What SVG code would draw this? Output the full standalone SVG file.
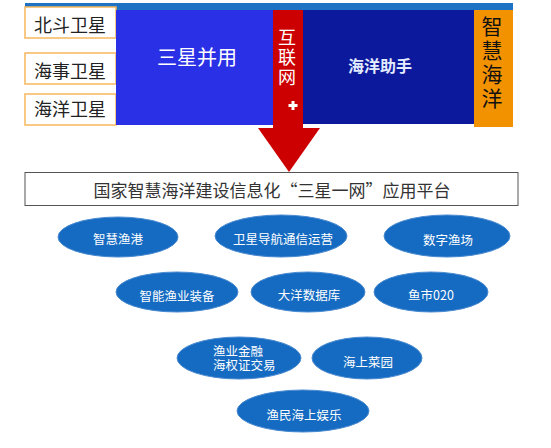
<svg xmlns="http://www.w3.org/2000/svg" width="551" height="448" viewBox="0 0 551 448">
<style>
.lbl{fill:#fff;stroke:#f6b85e;stroke-width:1.5}
.lt{font-family:"Noto Sans CJK SC",sans-serif;font-size:18px;fill:#222;text-anchor:middle;dominant-baseline:central}
.ell{fill:#156bc1;stroke:#4a8ad0;stroke-width:1}
.et{font-family:"Noto Sans CJK SC",sans-serif;font-size:12.5px;fill:#fff;text-anchor:middle;dominant-baseline:central}
.vt{font-family:"Noto Sans CJK SC",sans-serif;writing-mode:vertical-rl;text-orientation:upright;text-anchor:middle;dominant-baseline:central}
.w{fill:#fff}
</style>
<rect x="0" y="0" width="551" height="448" fill="#fff"/>
<g id="topbar"><rect x="25" y="3" width="488" height="7" fill="#1e72c4"/></g>
<g id="beidou"><rect class="lbl" x="25" y="7" width="91" height="31"/><text class="lt" x="70" y="24">北斗卫星</text></g>
<g id="haishi"><rect class="lbl" x="25" y="53" width="91" height="31"/><text class="lt" x="70" y="70">海事卫星</text></g>
<g id="haiyang"><rect class="lbl" x="25" y="94" width="91" height="31"/><text class="lt" x="70" y="108">海洋卫星</text></g>
<g id="sanxing"><rect x="116" y="10" width="157" height="115" fill="#2a30e6"/><text x="197" y="56" font-family="Noto Sans CJK SC,sans-serif" font-size="20" fill="#fff" text-anchor="middle" dominant-baseline="central">三星并用</text></g>
<g id="zhushou"><rect x="303" y="10" width="171" height="114" fill="#0d199c"/><text x="380" y="65" font-family="Noto Sans CJK SC,sans-serif" font-size="16" font-weight="bold" fill="#e3ecff" text-anchor="middle" dominant-baseline="central">海洋助手</text></g>
<g id="hulianwang">
<rect x="273" y="10" width="30" height="119" fill="#cc0000"/>
<polygon points="258,128 320,128 289,172" fill="#cc0000"/>
<text class="vt" x="287" y="58" font-size="18" letter-spacing="2" fill="#fff">互联网</text>
<path d="M291.5 101h3v3h3v3h-3v3h-3v-3h-3v-3h3z" class="w"/>
</g>
<g id="zhihui"><rect x="474" y="10" width="39" height="117" fill="#f39200"/>
<text class="vt" x="492" y="64" font-size="21" letter-spacing="3" fill="#111">智慧海洋</text>
</g>
<g id="platform"><rect x="25" y="172.5" width="493" height="33" fill="#fff" stroke="#555" stroke-width="1"/><text x="272" y="189" font-family="Noto Sans CJK SC,sans-serif" font-size="17" fill="#333" text-anchor="middle" dominant-baseline="central">国家智慧海洋建设信息化“三星一网”应用平台</text></g>
<g id="e1"><ellipse class="ell" cx="118" cy="237" rx="60" ry="20"/><text class="et" x="118" y="238">智慧渔港</text></g>
<g id="e2"><ellipse class="ell" cx="281" cy="236" rx="66" ry="21"/><text class="et" x="283" y="238">卫星导航通信运营</text></g>
<g id="e3"><ellipse class="ell" cx="447" cy="236" rx="63" ry="21"/><text class="et" x="448" y="239">数字渔场</text></g>
<g id="e4"><ellipse class="ell" cx="177" cy="292" rx="61" ry="20"/><text class="et" x="177" y="295">智能渔业装备</text></g>
<g id="e5"><ellipse class="ell" cx="308" cy="292" rx="57" ry="20"/><text class="et" x="309" y="294">大洋数据库</text></g>
<g id="e6"><ellipse class="ell" cx="431" cy="292" rx="57" ry="20"/><text class="et" x="431" y="294">鱼市020</text></g>
<g id="e7"><ellipse class="ell" cx="239" cy="358" rx="62" ry="21"/><text class="et" style="text-anchor:start" x="213" y="350">渔业金融<tspan x="213" dy="14">海权证交易</tspan></text></g>
<g id="e8"><ellipse class="ell" cx="367" cy="358" rx="55" ry="21"/><text class="et" x="368" y="361">海上菜园</text></g>
<g id="e9"><ellipse class="ell" cx="303" cy="411" rx="66" ry="21"/><text class="et" x="304" y="414">渔民海上娱乐</text></g>
<g id="connectors"></g>
</svg>
